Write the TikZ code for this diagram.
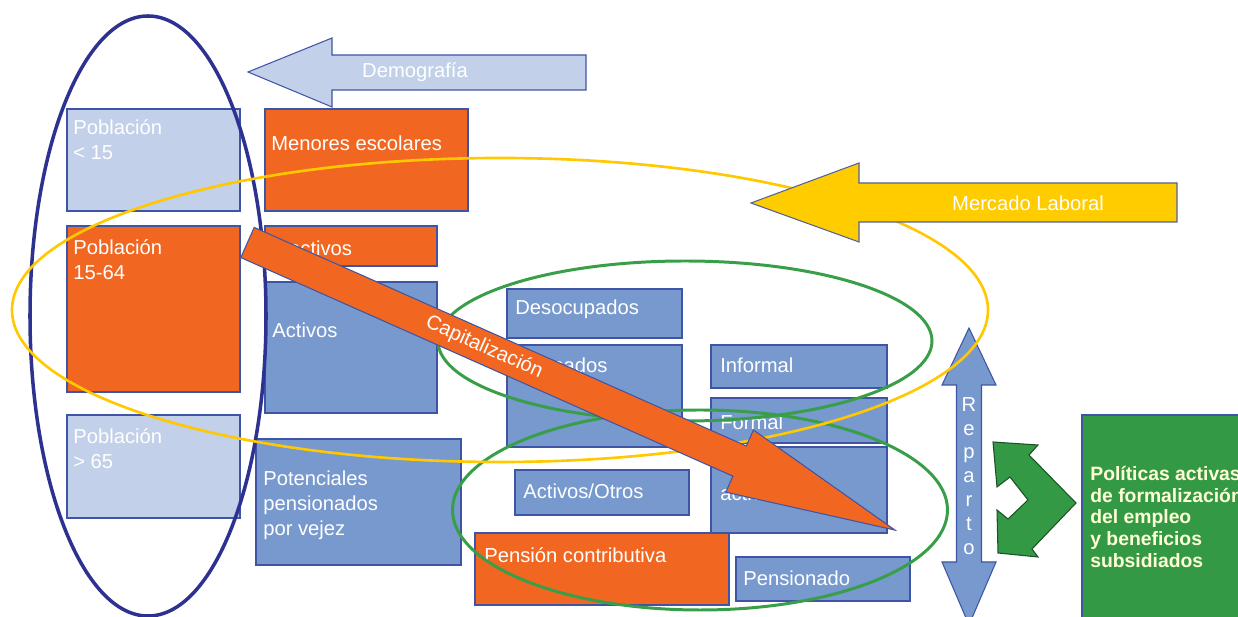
\documentclass[tikz,border=0pt]{standalone}
\usepackage{fontspec}
\setmainfont{Liberation Sans}
\usetikzlibrary{positioning,calc,fit}
\definecolor{naranja}{RGB}{241,103,34}
\definecolor{celeste}{RGB}{195,208,234}
\definecolor{azulmed}{RGB}{119,153,205}
\definecolor{borde}{RGB}{63,84,165}
\definecolor{marino}{RGB}{45,50,145}
\definecolor{amarillo}{RGB}{255,200,0}
\definecolor{oro}{RGB}{255,204,0}
\definecolor{verde}{RGB}{56,158,72}
\definecolor{verdecaja}{RGB}{51,153,68}
\definecolor{verdeosc}{RGB}{30,80,40}
\definecolor{crema}{RGB}{255,255,215}
\tikzset{
  caja/.style={draw=borde, line width=0.6pt, fill=#1, inner sep=0pt},
  txt/.style={text=white, font=\fontsize{11.5}{14.2}\selectfont, inner sep=0pt,
              anchor=west, align=left},
  anillo/.style={draw=#1, line width=1.7pt},
  flecha/.style 2 args={draw=#2, fill=#1, line width=0.6pt, line join=miter},
}

\begin{document}
\begin{tikzpicture}[x=0.02cm, y=-0.02cm]
\useasboundingbox (0,0) rectangle (1238,617);

% Population column
\node[caja=celeste, fit={(67,109) (240,211)}] (pmenor) {};
\node[caja=naranja, fit={(67,226) (240,392)}] (pedad) {};
\node[caja=celeste, fit={(67,415) (240,518)}] (pmayor) {};
\node[txt] (tmenor) at (73,140) {Población\\< 15};
\node[txt] (tedad) at (73,260) {Población\\15-64};
\node[txt] (tmayor) at (73,449) {Población\\> 65};

% Second column
\node[caja=naranja, fit={(265,109) (468,211)}] (escol) {};
\node[caja=naranja, fit={(265,226) (437,266)}] (inact) {};
\node[caja=azulmed, fit={(265,282) (437,413)}] (activ) {};
\node[caja=azulmed, fit={(256,439) (461,565)}] (poten) {};
\node[txt] (tescol) at (271,143) {Menores escolares};
\node[txt] (tinact) at (272,248) {Inactivos};
\node[txt] (tactiv) at (272,330) {Activos};
\node[txt] (tpoten) at (263,505) {Potenciales\\pensionados\\por vejez};

% Labour market boxes
\node[caja=azulmed, fit={(507,289) (682,338)}] (desoc) {};
\node[caja=azulmed, fit={(507,345) (682,447)}] (ocup) {};
\node[caja=azulmed, fit={(711,345) (887,388)}] (infor) {};
\node[caja=azulmed, fit={(711,398) (887,443)}] (formal) {};
\node[caja=azulmed, fit={(711,447) (887,533)}] (cotiz) {};
\node[caja=azulmed, fit={(515,470) (689,515)}] (aotros) {};
\node[caja=naranja, fit={(475,533) (729,605)}] (pcontr) {};
\node[caja=azulmed, fit={(736,557) (910,601)}] (pensio) {};
\node[txt] (tdesoc) at (515,309) {Desocupados};
\node[txt] (tocup) at (515,367) {Ocupados};
\node[txt] (tinfor) at (720,365) {Informal};
\node[txt] (tformal) at (720,422) {Formal};
\node[txt] (tcotiz) at (720,493) {activos};
\node[txt] (taotros) at (523,491) {Activos/Otros};
\node[txt] (tpcontr) at (484,555) {Pensión contributiva};
\node[txt] (tpensio) at (743,578) {Pensionado};

% Policy box and bent arrow
\node[caja=verdecaja, fit={(1082,415) (1250,630)}] (polit) {};
\node[anchor=west, inner sep=0pt, align=left, text=crema,
      font=\fontsize{11}{12.5}\selectfont\bfseries] (tpolit) at (1090,517)
      {Políticas activas\\de formalización\\del empleo\\y beneficios\\subsidiados};
\draw[flecha={verdecaja}{verdeosc}] (993,442) -- (1038,445) -- (1029,455)
  -- (1076,503) -- (1032,549) -- (1038,557) -- (998,553) -- (997,510)
  -- (1008,519) -- (1028,500) -- (1010,477) -- (997,487) -- cycle;

% Reparto
\draw[flecha={azulmed}{borde}] (969,328) -- (996,385) -- (981.5,385) -- (981.5,562)
  -- (996,562) -- (969,625) -- (942,562) -- (956.5,562) -- (956.5,385)
  -- (942,385) -- cycle;
\node[text=white, inner sep=0pt, align=center,
      font=\fontsize{11.5}{13.6}\selectfont] (trep) at (969,476)
      {R\\e\\p\\a\\r\\t\\o};

% Ellipses
\draw[anillo=marino, line width=2pt] (148,316) ellipse [x radius=118, y radius=300];
\draw[anillo=verde] (685,341) ellipse [x radius=247, y radius=80];
\draw[anillo=verde] (700,510) ellipse [x radius=247.5, y radius=100];
\draw[anillo=amarillo, line width=1.5pt] (500,310) ellipse [x radius=488, y radius=152];

% Capitalizacion
\begin{scope}[shift={(247.5,242.5)}, rotate=-23.95]
  \draw[flecha={naranja}{borde}] (0,-16.5) -- (538.5,-16.5) -- (538.5,-34) -- (708.5,0)
    -- (538.5,34) -- (538.5,16.5) -- (0,16.5) -- cycle;
  \node[txt, anchor=center, rotate=-23.95] (tcapit) at (259,0) {Capitalización};
\end{scope}

% Demografia and Mercado Laboral
\draw[flecha={celeste}{borde}] (586,55) -- (332,55) -- (332,38) -- (248,72)
  -- (332,107) -- (332,90) -- (586,90) -- cycle;
\node[txt, anchor=center] (tdemo) at (415,72) {Demografía};
\draw[flecha={oro}{borde!70!gray}] (1177,183) -- (859,183) -- (859,163) -- (751,203)
  -- (859,242) -- (859,222) -- (1177,222) -- cycle;
\node[txt, anchor=center] (tmerc) at (1028,203) {Mercado Laboral};

\end{tikzpicture}
\end{document}
